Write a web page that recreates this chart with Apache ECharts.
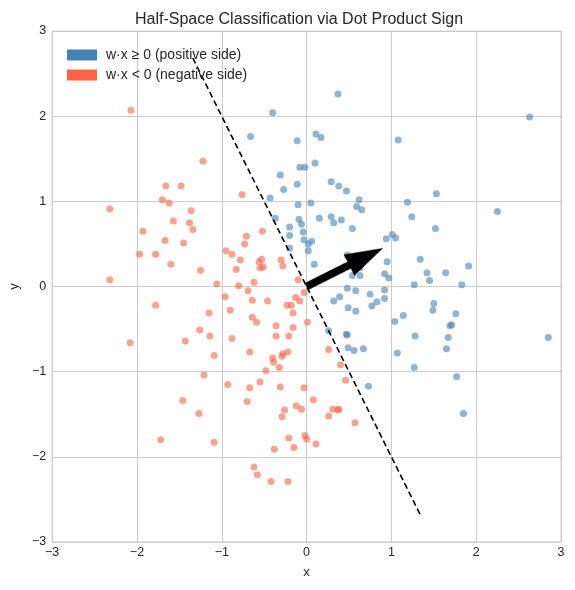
<!DOCTYPE html>
<html>
<head>
<meta charset="utf-8">
<script src="https://cdn.jsdelivr.net/npm/echarts@6/dist/echarts.min.js"></script>
<style>html,body{margin:0;padding:0;background:#fff}#c{width:575px;height:590px}</style>
</head>
<body>
<div id="c"></div>
<script>
const titleText = 'Half-Space Classification via Dot Product Sign';
const posLabel = 'w·x ≥ 0 (positive side)';
const negLabel = 'w·x < 0 (negative side)';
const axisTicks = [-3, -2, -1, 0, 1, 2, 3];
const weightVec = [0.894, 0.447];
const boundaryLine = [[-1.342, 2.683], [1.342, -2.683]];

const positivePts = [
[-0.66,1.76],[0.37,2.26],[-0.40,2.04],[-0.11,1.71],[0.11,1.79],[0.17,1.75],[1.08,1.72],[-0.08,1.40],[-0.02,1.40],[0.10,1.45],
[-0.31,1.31],[-0.27,1.14],[-0.11,1.20],[0.29,1.23],[0.38,1.18],[0.47,1.12],[-0.43,1.04],[-0.10,0.96],[0.05,0.98],[0.62,1.02],
[0.59,0.94],[0.65,0.90],[1.19,0.99],[-0.37,0.80],[-0.09,0.79],[0.15,0.80],[0.29,0.82],[0.41,0.78],[0.32,0.75],
[2.63,1.99],[1.53,1.09],[1.24,0.82],[2.25,0.88],
[-0.06,0.73],[-0.20,0.70],[0.54,0.68],[-0.20,0.60],[-0.04,0.64],[-0.03,0.55],[0.06,0.53],[0.02,0.50],[0.02,0.42],[-0.20,0.45],
[0.94,0.56],[1.01,0.61],[1.05,0.57],[0.09,0.26],[0.48,0.37],[0.63,0.22],[0.54,0.13],[0.63,0.13],[0.95,0.29],[0.92,0.15],[0.97,0.10],
[0.48,-0.02],[0.58,-0.05],[0.39,-0.12],[0.32,-0.17],[0.75,-0.09],[0.92,-0.04],[0.92,-0.14],[0.83,-0.18],[0.77,-0.23],[0.49,-0.25],
[0.58,-0.29],[1.14,-0.34],[1.04,-0.41],[0.26,-0.52],[0.47,-0.56],[0.48,-0.57],[0.49,-0.72],[0.56,-0.75],[0.67,-0.73],[1.07,-0.78],
[1.52,0.68],[1.34,0.32],[1.42,0.16],[1.64,0.16],[1.91,0.24],[1.45,0.07],[1.27,0.02],[1.83,0.02],[1.50,-0.20],[1.49,-0.28],
[1.76,-0.32],[1.69,-0.46],[1.71,-0.45],[1.28,-0.58],[1.67,-0.60],[2.85,-0.60],[1.65,-0.73],
[0.73,-1.17],[1.27,-0.95],[1.77,-1.06],[1.85,-1.49]
];

const negativePts = [
[-2.07,2.07],[-1.22,1.47],[-1.66,1.18],[-1.48,1.18],[-1.70,1.02],[-1.62,0.98],[-0.76,1.08],[-2.32,0.91],[-1.36,0.89],[-1.57,0.77],[-1.38,0.75],
[-1.34,0.67],[-1.93,0.65],[-1.67,0.54],[-1.45,0.51],[-0.71,0.59],[-0.73,0.50],[-1.97,0.38],[-1.78,0.38],[-0.95,0.42],[-0.88,0.38],
[-0.78,0.31],[-1.60,0.26],[-1.25,0.19],[-0.83,0.20],[-2.32,0.08],[-1.06,0.03],[-0.80,0.01],[-0.62,0.05],[-0.69,-0.05],[-0.96,-0.12],
[-0.64,-0.16],[-1.78,-0.22],[-1.15,-0.31],[-0.90,-0.28],[-0.64,-0.36],[-1.26,-0.51],[-1.14,-0.58],[-0.88,-0.61],[-2.08,-0.66],[-1.43,-0.64],[-0.67,-0.77],
[-0.52,0.65],[-0.53,0.32],[-0.56,0.29],[-0.51,0.23],[-0.55,0.22],[-0.30,0.31],[-0.28,0.24],[-0.10,0.08],[-0.03,-0.07],[-0.13,-0.13],
[-0.08,-0.17],[-0.46,-0.17],[-0.23,-0.22],[-0.18,-0.22],[-0.16,-0.31],[-0.59,-0.42],[-0.36,-0.46],[-0.16,-0.48],[0.01,-0.42],[-0.21,-0.58],
[-0.36,-0.58],[0.26,-0.74],[-0.22,-0.77],[-0.28,-0.79],
[-1.09,-0.81],[-1.21,-1.04],[-0.93,-1.15],[-0.67,-1.19],[-0.70,-1.35],[-1.46,-1.34],[-1.27,-1.49],[-1.72,-1.80],[-1.09,-1.83],[-0.62,-2.12],
[-0.40,-0.84],[-0.39,-0.89],[-0.29,-0.82],[-0.32,-0.95],[-0.48,-0.99],[0.40,-0.92],[-0.55,-1.12],[-0.31,-1.18],[-0.03,-1.19],[0.46,-1.10],
[0.08,-1.33],[-0.12,-1.40],[-0.06,-1.44],[-0.26,-1.45],[-0.29,-1.53],[0.31,-1.44],[0.38,-1.44],[0.37,-1.45],[0.26,-1.52],[0.57,-1.60],
[-0.21,-1.78],[-0.02,-1.75],[0.00,-1.79],[0.11,-1.85],[-0.38,-1.91],[-0.15,-1.89],[-0.58,-2.21],[-0.42,-2.29],[-0.22,-2.29]
];

const FONT = '"Liberation Sans", Arial, sans-serif';
const fmt = v => String(v).replace('-', '\u2212');

const chart = echarts.init(document.getElementById('c'), null, {renderer: 'canvas'});

function arrowRender(params, api) {
  const p0 = api.coord([api.value(0), api.value(1)]);
  const p1 = api.coord([api.value(2), api.value(3)]);
  const dx = p1[0] - p0[0], dy = p1[1] - p0[1];
  const L = Math.sqrt(dx * dx + dy * dy);
  const ux = dx / L, uy = dy / L;
  const nx = -uy, ny = ux;
  const headLen = 37, headHalf = 11.5, shaftHalf = 3.6;
  const bx = p1[0] - ux * headLen, by = p1[1] - uy * headLen;
  const pts = [
    [p0[0] + nx * shaftHalf, p0[1] + ny * shaftHalf],
    [bx + nx * shaftHalf, by + ny * shaftHalf],
    [bx + nx * headHalf, by + ny * headHalf],
    [p1[0], p1[1]],
    [bx - nx * headHalf, by - ny * headHalf],
    [bx - nx * shaftHalf, by - ny * shaftHalf],
    [p0[0] - nx * shaftHalf, p0[1] - ny * shaftHalf]
  ];
  return {type: 'polygon', shape: {points: pts}, style: {fill: '#000', stroke: '#000', lineWidth: 0.5}};
}

chart.setOption({
  animation: false,
  backgroundColor: '#fff',
  title: {
    text: titleText, left: 294, top: 7, textAlign: 'center',
    textStyle: {fontFamily: FONT, fontSize: 16, fontWeight: 'normal', color: '#262626'}
  },
  legend: {
    orient: 'vertical', left: 62, top: 43, itemWidth: 30, itemHeight: 11, itemGap: 6,
    icon: 'rect',
    itemStyle: {opacity: 1},
    textStyle: {fontFamily: FONT, fontSize: 14, lineHeight: 14, color: '#262626', padding: [0, 0, 0, 4]},
    data: [
      {name: posLabel, itemStyle: {color: '#4682B4', opacity: 1}},
      {name: negLabel, itemStyle: {color: '#FF6347', opacity: 1}}
    ]
  },
  grid: {left: 51, right: 14, top: 31, bottom: 48, show: true, borderColor: '#cccccc', borderWidth: 1},
  xAxis: {
    type: 'value', min: -3, max: 3, interval: 1,
    name: 'x', nameLocation: 'middle', nameGap: 24,
    nameTextStyle: {fontFamily: FONT, fontSize: 13, color: '#262626'},
    axisLine: {show: false}, axisTick: {show: false},
    axisLabel: {fontFamily: FONT, fontSize: 12.5, color: '#262626', margin: 4, formatter: fmt},
    splitLine: {show: true, lineStyle: {color: '#cccccc', width: 1}}
  },
  yAxis: {
    type: 'value', min: -3, max: 3, interval: 1,
    name: 'y', nameLocation: 'middle', nameGap: 30,
    nameTextStyle: {fontFamily: FONT, fontSize: 13, color: '#262626'},
    axisLine: {show: false}, axisTick: {show: false},
    axisLabel: {fontFamily: FONT, fontSize: 12.5, color: '#262626', margin: 6, formatter: fmt},
    splitLine: {show: true, lineStyle: {color: '#cccccc', width: 1}}
  },
  series: [
    {
      name: posLabel, type: 'scatter', data: positivePts, symbolSize: 7, z: 2,
      itemStyle: {color: '#4682B4', opacity: 0.6}
    },
    {
      name: negLabel, type: 'scatter', data: negativePts, symbolSize: 7, z: 2,
      itemStyle: {color: '#FF6347', opacity: 0.6}
    },
    {
      name: 'boundary', type: 'line', data: boundaryLine, symbol: 'none', z: 3,
      lineStyle: {color: '#000', width: 1.6, type: [6, 3.5]}
    },
    {
      name: 'w', type: 'custom', z: 4,
      data: [[0, 0, weightVec[0], weightVec[1]]],
      renderItem: arrowRender
    }
  ]
});
</script>
</body>
</html>
